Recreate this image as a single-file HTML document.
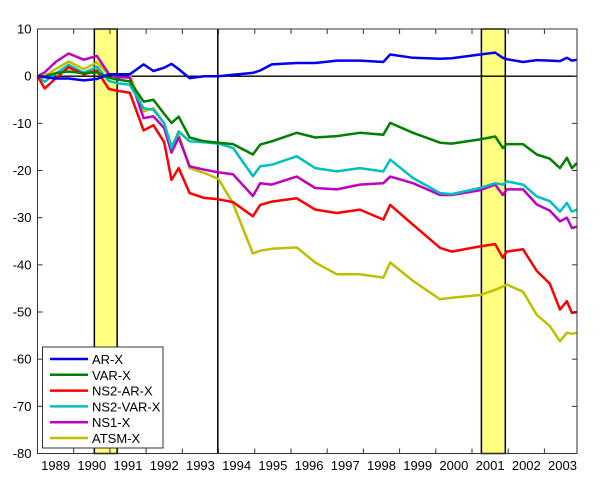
<!DOCTYPE html>
<html><head><meta charset="utf-8"><style>
body{margin:0;background:#fff;}
svg{display:block;font-family:"Liberation Sans",Arial,sans-serif;}
</style></head><body>
<svg id="chart" width="600" height="493" viewBox="0 0 600 493" xmlns="http://www.w3.org/2000/svg"></svg>
<script>
const dates=[1989.0,1989.2,1989.5,1989.86,1990.28,1990.64,1990.97,1991.2,1991.55,1991.93,1992.2,1992.5,1992.7,1992.9,1993.2,1993.6,1994.0,1994.4,1994.95,1995.15,1995.47,1996.16,1996.67,1997.27,1997.9,1998.55,1998.74,1999.37,2000.12,2000.44,2001.22,2001.64,2001.85,2001.96,2002.41,2002.79,2003.15,2003.43,2003.62,2003.76,2003.9];
const arX=[0,-0.2,-0.5,-0.5,-0.9,-0.6,0.4,0.4,0.4,2.5,1.1,1.8,2.6,1.5,-0.4,0,0,0.3,0.7,1.2,2.5,2.8,2.8,3.3,3.3,3.0,4.6,3.9,3.7,3.8,4.6,5.0,3.9,3.6,3.0,3.4,3.3,3.2,3.9,3.3,3.5];
const varX=[0,0,0.6,1.0,0.6,0.8,-0.3,-0.7,-1.1,-5.4,-5.0,-8,-9.9,-8.6,-13,-13.8,-14.1,-14.4,-16.6,-14.5,-13.8,-12,-13,-12.7,-12,-12.4,-9.9,-12,-14.1,-14.3,-13.4,-12.8,-15.2,-14.4,-14.4,-16.6,-17.5,-19.5,-17.3,-19.5,-18.4];
const ns2arX=[0,-2.6,-0.5,1.9,0.4,1.2,-2.7,-3.1,-3.5,-11.5,-10.4,-14,-22,-19.5,-24.8,-25.8,-26.1,-26.7,-29.7,-27.3,-26.6,-25.9,-28.3,-29,-28.3,-30.4,-27.3,-31.5,-36.4,-37.2,-36.1,-35.6,-38.5,-37.2,-36.7,-41.3,-44,-49.5,-47.7,-50.2,-50];
const ns2varX=[0,-1.2,0.5,2.4,0.7,2.0,-1.0,-1.5,-1.8,-6.8,-7.1,-10,-15.2,-11.7,-13.8,-14,-14.3,-15.2,-21.2,-19.1,-18.8,-17,-19.5,-20.2,-19.5,-20.2,-17.7,-21.6,-24.8,-25,-23.7,-22.7,-23,-22.3,-23,-25.5,-26.5,-28.7,-26.9,-28.7,-28.3];
const ns1X=[0,0.8,3.0,4.8,3.5,4.3,0.5,-0.2,-0.3,-8.9,-8.5,-11,-16.2,-13,-19.1,-19.8,-20.4,-20.8,-25.4,-22.7,-23,-21.3,-23.7,-24,-23,-22.7,-21.3,-22.7,-25.2,-25.2,-24.2,-23,-25.2,-24,-24,-27.2,-28.5,-30.8,-30,-32.2,-31.9];
const atsmX=[0,0,1.5,3.1,1.5,2.9,0.4,0.4,0.4,-7.5,-6.8,-10,-14.8,-12.3,-19.5,-20.5,-21.8,-27,-37.6,-37,-36.6,-36.3,-39.5,-42,-42,-42.7,-39.5,-43.4,-47.3,-47,-46.4,-45.3,-44.6,-44.2,-45.7,-50.6,-53,-56.2,-54.4,-54.6,-54.4];
const seriesNames=["AR-X","VAR-X","NS2-AR-X","NS2-VAR-X","NS1-X","ATSM-X"];
const yTicks=[10,0,-10,-20,-30,-40,-50,-60,-70,-80];
const xYears=[1989,1990,1991,1992,1993,1994,1995,1996,1997,1998,1999,2000,2001,2002,2003];
const recessions=[[1990.57,1991.2],[2001.26,2001.92]];
const markerLine=1993.98;

const L=37.5,R=577,T=29,B=453.5,X0=1989,X1=2003.9,Y0=-80,Y1=10;
const xs=t=>L+(t-X0)/(X1-X0)*(R-L);
const ys=v=>T+(Y1-v)/(Y1-Y0)*(B-T);
const svg=document.getElementById('chart');
const NS='http://www.w3.org/2000/svg';
function mk(tag,attrs,parent){const e=document.createElementNS(NS,tag);for(const k in attrs)e.setAttribute(k,attrs[k]);(parent||svg).appendChild(e);return e;}

for(const r of recessions){
  const e=mk('rect',{x:xs(r[0]),y:T,width:xs(r[1])-xs(r[0]),height:B-T,fill:'#ffff80',stroke:'#000','stroke-width':1.5});
  
  
}
const ml=mk('line',{x1:xs(markerLine),x2:xs(markerLine),y1:T,y2:B,stroke:'#000','stroke-width':1.5});


const zl=mk('line',{x1:L,x2:R,y1:ys(0),y2:ys(0),stroke:'#000','stroke-width':1.3});



const colors=['#0000ee','#007f00','#ff0000','#00bfbf','#bf00bf','#bfbf00'];
const all=[arX,varX,ns2arX,ns2varX,ns1X,atsmX];
const order=[5,4,3,2,1,0];
for(const i of order){
  const d=all[i].map((v,j)=>(j?'L':'M')+xs(dates[j]).toFixed(1)+','+ys(v).toFixed(1)).join('');
  const p=mk('path',{d:d,fill:'none',stroke:colors[i],'stroke-width':2.5,'stroke-linejoin':'round'});
  
  
}

const ax=mk('rect',{x:L,y:T,width:R-L,height:B-T,fill:'none',stroke:'#333','stroke-width':1});



for(const v of yTicks){
  const y=ys(v);
  mk('line',{x1:L,x2:L+5,y1:y,y2:y,stroke:'#333'});
  mk('line',{x1:R-5,x2:R,y1:y,y2:y,stroke:'#333'});
  const t=mk('text',{x:L-6,y:y+4.5,'text-anchor':'end','font-size':13,fill:'#000'});
  t.textContent=v;
  
  
}
for(const yr of xYears){
  const x=xs(yr+1);
  if(yr+1<X1){
    mk('line',{x1:x,x2:x,y1:B,y2:B-5,stroke:'#333'});
    mk('line',{x1:x,x2:x,y1:T,y2:T+5,stroke:'#333'});
  }
  const t=mk('text',{x:xs(yr+0.5),y:470,'text-anchor':'middle','font-size':13,fill:'#000'});
  t.textContent=yr;
  
  
}

const lg=mk('g',{});


mk('rect',{x:42.5,y:347,width:120.5,height:101,fill:'#fff',stroke:'#333','stroke-width':1},lg);
for(let i=0;i<6;i++){
  const y=359+i*15.8;
  const g=mk('g',{},lg);
  
  
  mk('line',{x1:50,x2:88,y1:y,y2:y,stroke:colors[i],'stroke-width':2.5},g);
  const t=mk('text',{x:92,y:y+5,'font-size':13,fill:'#000'},g);
  t.textContent=seriesNames[i];
}
</script>
</body></html>
